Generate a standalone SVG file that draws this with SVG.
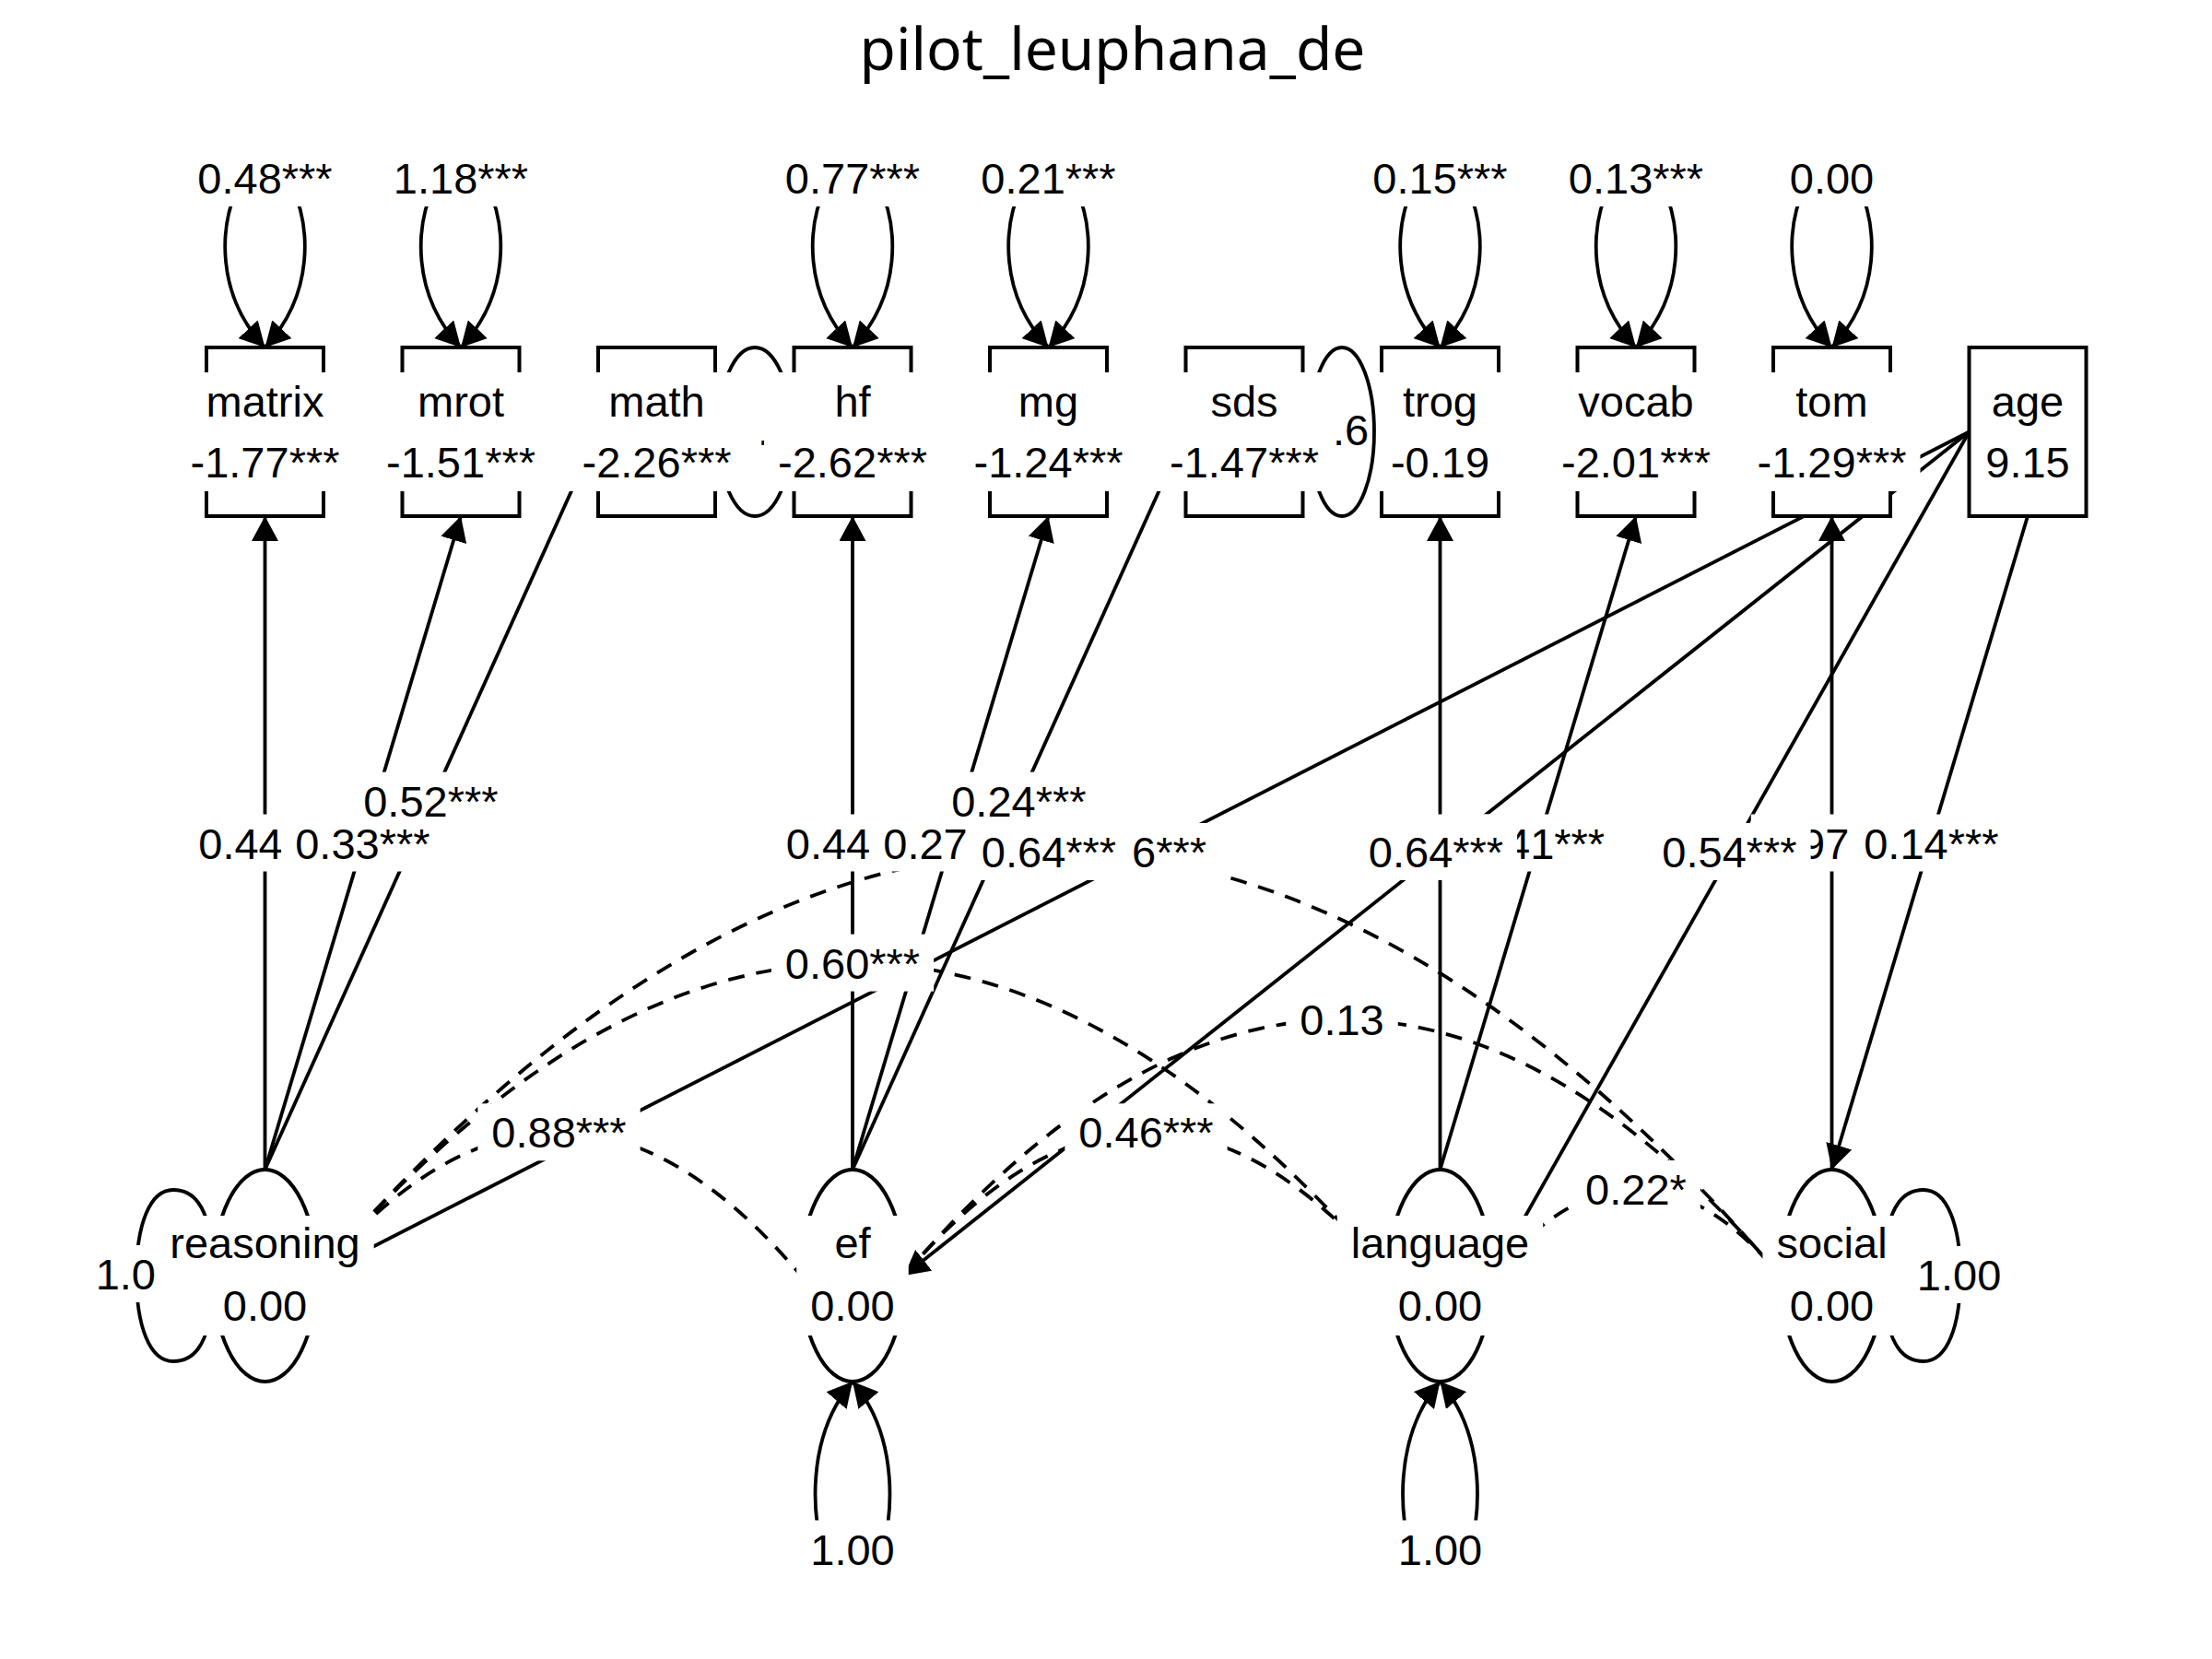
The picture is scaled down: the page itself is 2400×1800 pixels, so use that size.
<svg xmlns="http://www.w3.org/2000/svg" width="2400" height="1800" viewBox="0 0 2400 1800">
<defs>
<style>
.e{fill:none;stroke:#000;stroke-width:3.8}
.d{stroke-dasharray:18 13}
.t{font-family:'Liberation Sans',Arial,sans-serif;font-size:47px;text-anchor:middle;fill:#000}
.s{text-anchor:start}
.bg{fill:#fff;stroke:none}
.n{fill:#fff;stroke:#000;stroke-width:4}
</style>
<marker id="ah" viewBox="0 0 27 29" refX="27" refY="14.5" markerWidth="27" markerHeight="29" markerUnits="userSpaceOnUse" orient="auto-start-reverse"><path d="M0,0L27,14.5L0,29Z" fill="#000"/></marker>
</defs>
<rect width="2400" height="1800" fill="#fff"/>
<text x="1207" y="76" font-family="'Noto Sans',sans-serif" font-size="64" text-anchor="middle" fill="#000">pilot_leuphana_de</text>

<g id="connectors">
<g id="variance-loops" class="e">
<path marker-start="url(#ah)" marker-end="url(#ah)" d="M287.5,377 C233.5,319 237.5,245 259.5,200 Q287.5,160 315.5,200 C337.5,245 341.5,319 287.5,377"/>
<path marker-start="url(#ah)" marker-end="url(#ah)" d="M500,377 C446,319 450,245 472,200 Q500,160 528,200 C550,245 554,319 500,377"/>
<path marker-start="url(#ah)" marker-end="url(#ah)" d="M925,377 C871,319 875,245 897,200 Q925,160 953,200 C975,245 979,319 925,377"/>
<path marker-start="url(#ah)" marker-end="url(#ah)" d="M1137.5,377 C1083.5,319 1087.5,245 1109.5,200 Q1137.5,160 1165.5,200 C1187.5,245 1191.5,319 1137.5,377"/>
<path marker-start="url(#ah)" marker-end="url(#ah)" d="M1562.5,377 C1508.5,319 1512.5,245 1534.5,200 Q1562.5,160 1590.5,200 C1612.5,245 1616.5,319 1562.5,377"/>
<path marker-start="url(#ah)" marker-end="url(#ah)" d="M1775,377 C1721,319 1725,245 1747,200 Q1775,160 1803,200 C1825,245 1829,319 1775,377"/>
<path marker-start="url(#ah)" marker-end="url(#ah)" d="M1987.5,377 C1933.5,319 1937.5,245 1959.5,200 Q1987.5,160 2015.5,200 C2037.5,245 2041.5,319 1987.5,377"/>
<path d="M232,1372 C228,1300 205,1291 188,1291 C162,1291 148,1330 148,1384 C148,1438 162,1477 188,1477 C205,1477 228,1468 232,1396"/>
<path d="M2043,1372 C2047,1300 2070,1291 2087,1291 C2113,1291 2127,1330 2127,1384 C2127,1438 2113,1477 2087,1477 C2070,1477 2047,1468 2043,1396"/>
<path marker-start="url(#ah)" marker-end="url(#ah)" d="M925,1499 C873,1560 881,1650 895,1690 Q925,1715 955,1690 C969,1650 977,1560 925,1499"/>
<path marker-start="url(#ah)" marker-end="url(#ah)" d="M1562.5,1499 C1510.5,1560 1518.5,1650 1532.5,1690 Q1562.5,1715 1592.5,1690 C1606.5,1650 1614.5,1560 1562.5,1499"/>
</g>
<g id="paths" class="e">
<path marker-end="url(#ah)" d="M287.5,1269 L287.5,560"/>
<path marker-end="url(#ah)" d="M287.5,1269 L500,560"/>
<path marker-end="url(#ah)" d="M287.5,1269 L649,468.5"/>
<path marker-end="url(#ah)" d="M925,1269 L925,560"/>
<path marker-end="url(#ah)" d="M925,1269 L1137.5,560"/>
<path marker-end="url(#ah)" d="M925,1269 L1286.5,468.5"/>
<path marker-end="url(#ah)" d="M1562.5,1269 L1562.5,560"/>
<path marker-end="url(#ah)" d="M1562.5,1269 L1775,560"/>
<path marker-end="url(#ah)" d="M1987.5,1269 L1987.5,560"/>
<path marker-end="url(#ah)" d="M2136.5,468.5 L343.5,1384"/>
<path marker-end="url(#ah)" d="M2136.5,468.5 L981,1384"/>
<path marker-end="url(#ah)" d="M2136.5,468.5 L1618.5,1384"/>
<path marker-end="url(#ah)" d="M2200,560 L1987.5,1269"/>
</g>
<g id="covariances" class="e d">
<path d="M343.5,1384 Q606.25,1073 869,1384"/>
<path d="M981,1384 Q1243.75,1073 1506.5,1384"/>
<path d="M343.5,1384 Q925,706 1506.5,1384"/>
<path d="M981,1384 Q1456.25,828.4 1931.5,1384"/>
<path d="M343.5,1384 Q1137.5,464.4 1931.5,1384"/>
<path d="M1618.5,1384 Q1775,1196.4 1931.5,1384"/>
</g>
<g id="residual-covariances">
<text class="t s" x="822" y="483">.</text>
<text class="t s" x="1446" y="483">.6</text>
<ellipse class="e" cx="819" cy="468.5" rx="40" ry="91.5"/>
<ellipse class="e" cx="1456" cy="468.5" rx="35" ry="91.5"/>
</g>
<g id="edge-labels" class="t">
<rect class="bg" x="199.35" y="162" width="176.3" height="62"/><text x="287.5" y="210">0.48***</text>
<rect class="bg" x="411.85" y="162" width="176.3" height="62"/><text x="500" y="210">1.18***</text>
<rect class="bg" x="836.85" y="162" width="176.3" height="62"/><text x="925" y="210">0.77***</text>
<rect class="bg" x="1049.35" y="162" width="176.3" height="62"/><text x="1137.5" y="210">0.21***</text>
<rect class="bg" x="1474.35" y="162" width="176.3" height="62"/><text x="1562.5" y="210">0.15***</text>
<rect class="bg" x="1686.85" y="162" width="176.3" height="62"/><text x="1775" y="210">0.13***</text>
<rect class="bg" x="1926.75" y="162" width="121.5" height="62"/><text x="1987.5" y="210">0.00</text>
<rect class="bg" x="88.65" y="1351" width="121.5" height="62"/><text class="s" x="103.65" y="1399">1.0</text>
<rect class="bg" x="2064.85" y="1352" width="121.5" height="62"/><text x="2125.6" y="1400">1.00</text>
<rect class="bg" x="864.25" y="1649.5" width="121.5" height="62"/><text x="925" y="1697.5">1.00</text>
<rect class="bg" x="1501.75" y="1649.5" width="121.5" height="62"/><text x="1562.5" y="1697.5">1.00</text>
<rect class="bg" x="200.25" y="883.5" width="121.5" height="62"/><text x="261" y="931.5">0.44</text>
<rect class="bg" x="305.25" y="883.5" width="176.3" height="62"/><text x="393.4" y="931.5">0.33***</text>
<rect class="bg" x="379.25" y="837.6" width="176.3" height="62"/><text x="467.4" y="885.6">0.52***</text>
<rect class="bg" x="837.75" y="883.5" width="121.5" height="62"/><text x="898.5" y="931.5">0.44</text>
<rect class="bg" x="943.25" y="883.5" width="121.5" height="62"/><text x="1004" y="931.5">0.27</text>
<rect class="bg" x="1017.25" y="837.6" width="176.3" height="62"/><text x="1105.4" y="885.6">0.24***</text>
<rect class="bg" x="1147.85" y="893" width="176.3" height="62"/><text class="s" x="1228" y="941">6***</text>
<rect class="bg" x="1049.85" y="893" width="176.3" height="62"/><text x="1138" y="941">0.64***</text>
<rect class="bg" x="836.85" y="1013.6" width="176.3" height="62"/><text x="925" y="1061.6">0.60***</text>
<rect class="bg" x="518.35" y="1197.3" width="176.3" height="62"/><text x="606.5" y="1245.3">0.88***</text>
<rect class="bg" x="1155.35" y="1197.3" width="176.3" height="62"/><text x="1243.5" y="1245.3">0.46***</text>
<rect class="bg" x="1395.25" y="1075" width="121.5" height="62"/><text x="1456" y="1123">0.13</text>
<rect class="bg" x="1474.4" y="883.5" width="176.3" height="62"/>
<rect class="bg" x="1579.85" y="883.5" width="176.3" height="62"/><text class="s" x="1634" y="931.5">41***</text>
<rect class="bg" x="1469.85" y="893" width="176.3" height="62"/><text x="1558" y="941">0.64***</text>
<rect class="bg" x="1899.75" y="883.5" width="121.5" height="62"/><text class="s" x="1954" y="931.5">97</text>
<rect class="bg" x="1788.35" y="893" width="176.3" height="62"/><text x="1876.5" y="941">0.54***</text>
<rect class="bg" x="2007.25" y="883.5" width="176.3" height="62"/><text x="2095.4" y="931.5">0.14***</text>
<rect class="bg" x="1705.15" y="1259" width="139.7" height="62"/><text x="1775" y="1307">0.22*</text>
</g>
</g>

<g id="node-matrix"><rect class="n" x="224" y="377" width="127" height="183"/><rect class="bg" x="191.5" y="404" width="192" height="129"/><text class="t" x="287.5" y="452">matrix</text><text class="t" x="287.5" y="518">-1.77***</text></g>
<g id="node-mrot"><rect class="n" x="436.5" y="377" width="127" height="183"/><rect class="bg" x="404" y="404" width="192" height="129"/><text class="t" x="500" y="452">mrot</text><text class="t" x="500" y="518">-1.51***</text></g>
<g id="node-math"><rect class="n" x="649" y="377" width="127" height="183"/><rect class="bg" x="616.5" y="404" width="192" height="129"/><text class="t" x="712.5" y="452">math</text><text class="t" x="712.5" y="518">-2.26***</text></g>
<g id="node-hf"><rect class="n" x="861.5" y="377" width="127" height="183"/><rect class="bg" x="829" y="404" width="192" height="129"/><text class="t" x="925" y="452">hf</text><text class="t" x="925" y="518">-2.62***</text></g>
<g id="node-mg"><rect class="n" x="1074" y="377" width="127" height="183"/><rect class="bg" x="1041.5" y="404" width="192" height="129"/><text class="t" x="1137.5" y="452">mg</text><text class="t" x="1137.5" y="518">-1.24***</text></g>
<g id="node-sds"><rect class="n" x="1286.5" y="377" width="127" height="183"/><rect class="bg" x="1254" y="404" width="192" height="129"/><text class="t" x="1350" y="452">sds</text><text class="t" x="1350" y="518">-1.47***</text></g>
<g id="node-trog"><rect class="n" x="1499" y="377" width="127" height="183"/><rect class="bg" x="1494" y="404" width="137" height="129"/><text class="t" x="1562.5" y="452">trog</text><text class="t" x="1562.5" y="518">-0.19</text></g>
<g id="node-vocab"><rect class="n" x="1711.5" y="377" width="127" height="183"/><rect class="bg" x="1679" y="404" width="192" height="129"/><text class="t" x="1775" y="452">vocab</text><text class="t" x="1775" y="518">-2.01***</text></g>
<g id="node-tom"><rect class="n" x="1924" y="377" width="127" height="183"/><rect class="bg" x="1891.5" y="404" width="192" height="129"/><text class="t" x="1987.5" y="452">tom</text><text class="t" x="1987.5" y="518">-1.29***</text></g>
<g id="node-age"><rect class="n" x="2136.5" y="377" width="127" height="183"/><rect class="bg" x="2139.5" y="404" width="121" height="129"/><text class="t" x="2200" y="452">age</text><text class="t" x="2200" y="518">9.15</text></g>

<g id="node-reasoning"><ellipse class="n" cx="287.5" cy="1384" rx="56" ry="115"/><rect class="bg" x="169.3" y="1319" width="236.4" height="130"/><text class="t" x="287.5" y="1365">reasoning</text><text class="t" x="287.5" y="1433">0.00</text></g>
<g id="node-ef"><ellipse class="n" cx="925" cy="1384" rx="56" ry="115"/><rect class="bg" x="864.25" y="1319" width="121.5" height="130"/><text class="t" x="925" y="1365">ef</text><text class="t" x="925" y="1433">0.00</text></g>
<g id="node-language"><ellipse class="n" cx="1562.5" cy="1384" rx="56" ry="115"/><rect class="bg" x="1450.8" y="1319" width="223.4" height="130"/><text class="t" x="1562.5" y="1365">language</text><text class="t" x="1562.5" y="1433">0.00</text></g>
<g id="node-social"><ellipse class="n" cx="1987.5" cy="1384" rx="56" ry="115"/><rect class="bg" x="1912.45" y="1319" width="150.1" height="130"/><text class="t" x="1987.5" y="1365">social</text><text class="t" x="1987.5" y="1433">0.00</text></g>
</svg>
